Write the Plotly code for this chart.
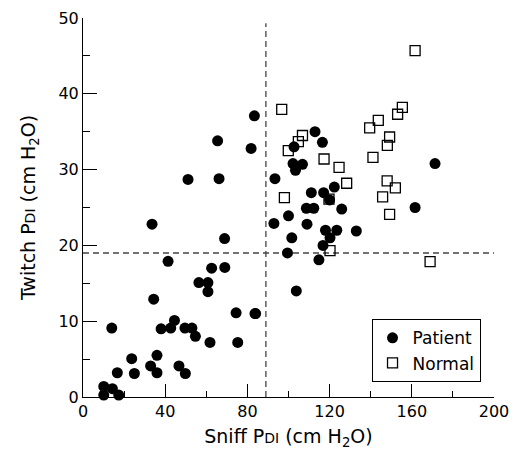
import plotly.graph_objects as go

# Patient (filled circles)
patient_sniff = [33.6, 68.9, 41.4, 62.6, 69.0, 56.4, 60.8, 60.8, 34.4, 74.5, 84.0,
                 14.0, 38.0, 42.7, 44.5, 49.6, 53.0, 54.7, 61.8, 75.3, 23.7, 36.0,
                 32.9, 36.0, 46.7, 49.8, 16.7, 25.0, 10.1, 14.3, 10.1, 17.4,
                 92.9, 100.0, 101.6, 99.5, 103.8, 83.4, 65.5, 81.8, 51.1, 66.2, 93.4,
                 102.2, 103.4, 112.9, 116.5, 102.7, 106.8, 111.1, 117.1, 122.3, 120.0,
                 171.3, 108.7, 112.3, 125.9, 161.6, 109.0, 118.0, 123.5, 133.0,
                 120.2, 116.8, 114.8, 83.7]
patient_twitch = [22.8, 20.9, 17.9, 17.0, 17.1, 15.1, 15.1, 13.9, 12.9, 11.1, 11.0,
                  9.1, 9.0, 9.1, 10.1, 9.1, 9.1, 8.0, 7.2, 7.2, 5.05, 5.5,
                  4.1, 3.2, 4.1, 3.1, 3.2, 3.1, 1.4, 1.1, 0.26, 0.26,
                  22.9, 23.9, 21.0, 19.0, 14.0, 37.1, 33.8, 32.8, 28.7, 28.8, 28.8,
                  30.8, 29.9, 35.0, 33.6, 33.0, 30.7, 26.95, 26.95, 27.7, 26.0,
                  30.8, 24.9, 24.9, 24.8, 25.0, 22.8, 22.0, 22.0, 21.9,
                  21.0, 20.0, 18.1, 11.0]

# Normal (open squares)
normal_sniff = [96.7, 161.6, 155.4, 153.1, 143.7, 139.5, 149.2, 148.1, 106.8, 104.8,
                99.9, 117.3, 141.1, 124.6, 128.3, 148.0, 152.0, 145.8, 98.0, 119.7,
                149.2, 120.2, 168.9]
normal_twitch = [37.95, 45.7, 38.2, 37.3, 36.5, 35.5, 34.3, 33.2, 34.5, 33.7,
                 32.5, 31.4, 31.6, 30.3, 28.2, 28.5, 27.6, 26.4, 26.3, 26.1,
                 24.1, 19.3, 17.85]

sniff_cutoff = 89
twitch_cutoff = 19

x_ticks = [0, 40, 80, 120, 160, 200]
y_ticks = [0, 10, 20, 30, 40, 50]

FONT = "DejaVu Sans, Liberation Sans, Arial, sans-serif"

fig = go.Figure()

# reference lines
fig.add_trace(go.Scatter(x=[sniff_cutoff, sniff_cutoff], y=[0, 49.3], mode="lines",
                         line=dict(color="#444", width=1.3, dash="6px,4px"),
                         showlegend=False, hoverinfo="skip", cliponaxis=False))
fig.add_trace(go.Scatter(x=[0, 203], y=[twitch_cutoff, twitch_cutoff], mode="lines",
                         line=dict(color="#444", width=1.3, dash="6px,4px"),
                         showlegend=False, hoverinfo="skip", cliponaxis=False))

fig.add_trace(go.Scatter(x=patient_sniff, y=patient_twitch, mode="markers", name="Patient",
                         marker=dict(symbol="circle", size=11, color="black",
                                     line=dict(width=0)),
                         cliponaxis=False))
fig.add_trace(go.Scatter(x=normal_sniff, y=normal_twitch, mode="markers", name="Normal",
                         marker=dict(symbol="square-open", size=10, color="black",
                                     line=dict(width=1.3)),
                         cliponaxis=False))

fig.update_layout(
    width=520, height=442,
    margin=dict(l=75, r=34, t=10, b=53, autoexpand=False),
    paper_bgcolor="white", plot_bgcolor="white",
    font=dict(family=FONT, color="black"),
    legend=dict(x=0.702, y=0.205, xanchor="left", yanchor="top",
                bordercolor="black", borderwidth=1, bgcolor="white",
                font=dict(size=17, family=FONT, color="black"),
                itemwidth=30, tracegroupgap=0),
)

fig.update_xaxes(
    range=[0, 200], tickvals=x_ticks, ticktext=[str(v) for v in x_ticks],
    ticks="inside", ticklen=13, tickwidth=1, tickcolor="black",
    minor=dict(tickvals=[20, 60, 100, 140, 180], ticks="inside", ticklen=6,
               tickwidth=1, tickcolor="black"),
    showline=True, linecolor="black", linewidth=1, showgrid=False, zeroline=False,
    automargin=False,
    tickfont=dict(size=16, family=FONT, color="black"),
    title=dict(text="Sniff P<span style='font-size:14px'>DI</span> (cm H<sub>2</sub>O)",
               font=dict(size=19, family=FONT, color="black"), standoff=9),
)
fig.update_yaxes(
    range=[0, 50], tickvals=y_ticks, ticktext=[str(v) for v in y_ticks],
    ticks="inside", ticklen=14, tickwidth=1, tickcolor="black",
    minor=dict(tickvals=[5, 15, 25, 35, 45], ticks="inside", ticklen=7,
               tickwidth=1, tickcolor="black"),
    showline=True, linecolor="black", linewidth=1, showgrid=False, zeroline=False,
    automargin=False,
    tickfont=dict(size=16, family=FONT, color="black"),
    title=dict(text="Twitch P<span style='font-size:14px'>DI</span> (cm H<sub>2</sub>O)",
               font=dict(size=19, family=FONT, color="black"), standoff=17),
)

fig.write_html("out.html")
